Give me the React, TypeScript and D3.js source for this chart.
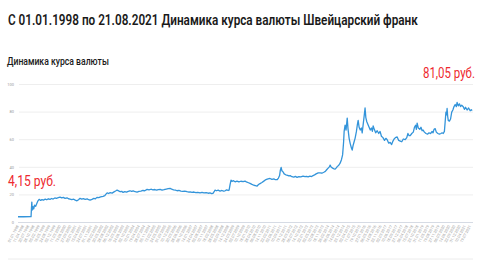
import React, { useLayoutEffect, useRef, useState } from "react";
import * as d3 from "d3";

const years = [
  1998.0, 1998.3, 1998.68, 1998.7, 1998.72, 1998.74, 1998.78, 1998.82, 1998.86, 1998.92, 1998.98,
  1999.04, 1999.1, 1999.18, 1999.25, 1999.33, 1999.42, 1999.5, 1999.58, 1999.67, 1999.75, 1999.83, 1999.92,
  2000.0, 2000.1, 2000.19, 2000.28, 2000.36, 2000.45, 2000.55, 2000.63, 2000.71, 2000.8, 2000.9, 2000.98,
  2001.07, 2001.15, 2001.23, 2001.32, 2001.4, 2001.5, 2001.6, 2001.68, 2001.75, 2001.85, 2001.95,
  2002.03, 2002.11, 2002.2, 2002.3, 2002.43, 2002.52, 2002.58, 2002.64, 2002.72, 2002.8, 2002.9,
  2003.0, 2003.08, 2003.16, 2003.24, 2003.32, 2003.4, 2003.47, 2003.56, 2003.65, 2003.74, 2003.83, 2003.92,
  2004.0, 2004.1, 2004.2, 2004.3, 2004.4, 2004.5, 2004.6, 2004.72, 2004.82, 2004.92,
  2005.02, 2005.12, 2005.22, 2005.3, 2005.4, 2005.5, 2005.6, 2005.72, 2005.82, 2005.92,
  2006.0, 2006.1, 2006.2, 2006.28, 2006.38, 2006.48, 2006.58, 2006.68, 2006.8, 2006.9, 2006.96,
  2007.06, 2007.16, 2007.26, 2007.36, 2007.48, 2007.58, 2007.68, 2007.8, 2007.9,
  2008.0, 2008.08, 2008.16, 2008.22, 2008.26, 2008.34, 2008.42, 2008.52, 2008.62, 2008.7, 2008.78, 2008.86, 2008.94, 2008.99,
  2009.04, 2009.09, 2009.14, 2009.2, 2009.3, 2009.4, 2009.5, 2009.6, 2009.72, 2009.82, 2009.92,
  2010.0, 2010.08, 2010.18, 2010.28, 2010.36, 2010.45, 2010.52, 2010.6, 2010.7, 2010.78, 2010.86, 2010.94,
  2011.02, 2011.12, 2011.22, 2011.32, 2011.4, 2011.49, 2011.56, 2011.62, 2011.66, 2011.7, 2011.74, 2011.8, 2011.86, 2011.94,
  2012.04, 2012.1, 2012.17, 2012.26, 2012.36, 2012.44, 2012.53, 2012.62, 2012.72, 2012.84, 2012.94,
  2013.02, 2013.1, 2013.2, 2013.28, 2013.36, 2013.44, 2013.52, 2013.63, 2013.73, 2013.82, 2013.92,
  2014.0, 2014.08, 2014.16, 2014.22, 2014.25, 2014.3, 2014.38, 2014.46, 2014.51, 2014.56, 2014.62, 2014.7, 2014.77, 2014.84, 2014.9, 2014.95, 2014.98,
  2015.03, 2015.08, 2015.14, 2015.18, 2015.24, 2015.3, 2015.36, 2015.4, 2015.45, 2015.5, 2015.55, 2015.62, 2015.67, 2015.71, 2015.76, 2015.82, 2015.88, 2015.92, 2015.98,
  2016.03, 2016.07, 2016.11, 2016.16, 2016.22, 2016.28, 2016.34, 2016.4, 2016.45, 2016.49, 2016.55, 2016.62, 2016.7, 2016.78, 2016.85, 2016.92,
  2017.0, 2017.08, 2017.15, 2017.22, 2017.3, 2017.375, 2017.45, 2017.52, 2017.58, 2017.65, 2017.74, 2017.82, 2017.9, 2017.98,
  2018.06, 2018.16, 2018.24, 2018.3, 2018.36, 2018.42, 2018.5, 2018.58, 2018.64, 2018.7, 2018.74, 2018.78, 2018.84, 2018.92, 2018.98,
  2019.04, 2019.09, 2019.16, 2019.24, 2019.32, 2019.4, 2019.48, 2019.56, 2019.61, 2019.66, 2019.72, 2019.78, 2019.86, 2019.94,
  2020.02, 2020.08, 2020.14, 2020.2, 2020.24, 2020.28, 2020.31, 2020.34, 2020.37, 2020.4, 2020.46, 2020.52, 2020.58, 2020.64, 2020.7, 2020.76, 2020.82, 2020.86, 2020.92, 2020.98,
  2021.04, 2021.1, 2021.18, 2021.24, 2021.3, 2021.38, 2021.46, 2021.54, 2021.6, 2021.64,
];

const rates = [
  4.15, 4.17, 4.2, 10, 14.8, 9, 11.5, 9.8, 12.5, 11.8, 13.8,
  15.7, 16.8, 16.0, 16.6, 16.2, 17.0, 16.5, 17.2, 16.8, 17.4, 17.0, 17.8,
  17.5, 18.0, 18.4, 17.8, 18.2, 17.5, 17.9, 17.2, 17.0, 16.6, 16.9, 16.2,
  15.7, 16.5, 17.5, 17.0, 17.3, 16.8, 17.1, 16.5, 16.2, 16.8, 17.5,
  17.2, 18.2, 18.0, 18.6, 19.0, 19.5, 20.6, 21.5, 21.0, 21.6, 21.3,
  22.2, 22.8, 23.5, 22.9, 22.3, 22.6, 21.8, 22.4, 22.0, 22.6, 23.0, 22.5,
  22.9, 22.3, 22.0, 22.6, 22.8, 23.2, 23.0, 24.0, 23.6, 24.1,
  23.7, 23.9, 23.4, 23.8, 24.0, 23.5, 23.8, 24.2, 24.5, 24.7,
  24.2, 23.7, 23.4, 23.0, 23.3, 22.8, 22.5, 22.8, 22.3, 22.0, 22.2,
  21.8, 22.1, 21.7, 21.9, 21.5, 21.8, 21.4, 21.6, 21.2,
  21.4, 21.0, 21.2, 22.5, 23.5, 23.0, 23.4, 22.8, 23.2, 22.7, 23.0, 23.6, 23.2, 23.5,
  27.5, 30.7, 29.8, 30.3, 29.5, 30.0, 29.4, 29.9, 29.6, 30.0, 29.2,
  28.8, 28.3, 27.6, 27.0, 26.8, 26.4, 27.5, 28.2, 29.0, 29.8, 30.7, 31.2,
  31.6, 31.9, 31.2, 31.6, 31.0, 31.0, 32.2, 34.0, 38.0, 40.0, 37.5, 36.7, 35.2, 34.6,
  34.2, 33.8, 34.0, 33.2, 32.9, 33.4, 32.7, 33.2, 33.0, 33.6, 33.2,
  33.4, 33.0, 33.6, 33.3, 34.0, 34.5, 35.2, 36.0, 36.0, 35.7, 36.4,
  37.0, 38.4, 39.6, 40.5, 41.6, 40.2, 39.4, 38.9, 38.7, 39.4, 40.5, 41.5, 43.0, 45.5, 49.0, 58.0, 66.0,
  70.6, 67.0, 75.7, 68.0, 61.0, 57.0, 54.0, 52.5, 56.0, 58.5, 61.0, 66.0, 71.0, 74.0, 69.0, 67.0, 68.5, 65.0, 72.0,
  78.0, 83.0, 76.0, 73.0, 71.0, 69.0, 67.0, 68.5, 66.0, 70.0, 67.5, 65.0, 66.5, 64.5, 66.0, 62.5,
  61.5, 59.5, 61.0, 60.0, 57.5, 58.0, 56.5, 59.0, 60.5, 61.5, 62.0, 59.5, 59.0, 58.5,
  60.5, 60.0, 61.5, 64.5, 63.0, 63.0, 64.5, 65.5, 69.0, 70.5, 67.5, 72.0, 68.5, 67.5, 69.0,
  66.5, 67.0, 65.5, 64.5, 64.0, 65.0, 64.5, 66.0, 65.0, 67.5, 68.0, 65.5, 64.5, 64.0,
  64.5, 65.0, 64.5, 66.0, 73.0, 80.0, 78.0, 82.6, 77.0, 74.0, 73.5, 75.0, 80.0, 81.5, 84.0, 85.5, 84.0, 87.0, 84.5, 86.0,
  84.0, 85.0, 83.9, 82.0, 83.5, 81.5, 83.0, 81.0, 81.8, 81.05,
];

const yTicks = [0, 20, 40, 60, 80, 100];
const startDate = "1998-01-01";
const endDate = "2021-08-21";
const tickStepDays = 100;

const title = "С 01.01.1998 по 21.08.2021 Динамика курса валюты Швейцарский франк";
const subtitle = "Динамика курса валюты";
const firstLabel = "4,15 руб.";
const lastLabel = "81,05 руб.";

function yearToDate(y: number): Date {
  const yr = Math.floor(y);
  const frac = y - yr;
  const start = new Date(yr, 0, 1).getTime();
  const end = new Date(yr + 1, 0, 1).getTime();
  return new Date(start + frac * (end - start));
}

function FitText(props: {
  x: number; y: number; width: number; fontSize: number; fontWeight?: number; fill: string; children: string;
}) {
  const ref = useRef<SVGTextElement>(null);
  const [sx, setSx] = useState(1);
  useLayoutEffect(() => {
    if (ref.current) {
      const w = ref.current.getComputedTextLength();
      if (w > 0) setSx(props.width / w);
    }
  }, [props.width, props.children]);
  return (
    <g transform={`translate(${props.x},${props.y}) scale(${sx},1)`}>
      <text ref={ref} x={0} y={0} fontSize={props.fontSize} fontWeight={props.fontWeight || 400} fill={props.fill}>
        {props.children}
      </text>
    </g>
  );
}

export default function App() {
  const W = 480, H = 264;
  const parse = d3.timeParse("%Y-%m-%d");
  const d0 = parse(startDate)!;
  const d1 = parse(endDate)!;
  const x = d3.scaleTime().domain([d0, d1]).range([18, 472]);
  const y = d3.scaleLinear().domain([0, 100]).range([222.5, 84.5]);

  const data = years.map((yy, i) => ({ d: yearToDate(yy), v: rates[i] }));
  const line = d3.line<{ d: Date; v: number }>().x((p) => x(p.d)).y((p) => y(p.v));

  const tickDates: Date[] = [];
  for (let t = d0; t <= d1; t = d3.timeDay.offset(t, tickStepDays)) tickDates.push(t);
  const fmt = d3.timeFormat("%d.%m.%Y");

  const font = "Roboto, 'Noto Sans', sans-serif";

  return (
    <svg width={W} height={H} style={{ position: "absolute", left: 0, top: 0, background: "#fff" }} fontFamily={font}>
      <FitText x={8} y={25} width={410} fontSize={15.5} fontWeight={600} fill="#1a1a1a">
        {title}
      </FitText>
      <FitText x={7} y={65} width={102} fontSize={11} fontWeight={500} fill="#1a1a1a">
        {subtitle}
      </FitText>
      {yTicks.map((t) => (
        <g key={t}>
          {t > 0 && <line x1={19} x2={473} y1={y(t)} y2={y(t)} stroke="#eeeeee" strokeWidth={1} />}
          <text x={14} y={y(t) + 1.3} fontSize={4} fill="#9a9a9a" textAnchor="end">
            {t}
          </text>
        </g>
      ))}
      <line x1={18} x2={473} y1={y(0)} y2={y(0)} stroke="#d6dbe4" strokeWidth={1} />
      {tickDates.map((t, i) => (
        <text
          key={i}
          transform={`translate(${x(t) + 1},${226}) rotate(-62)`}
          fontSize={3.8}
          fill="#a0a0a0"
          textAnchor="end"
        >
          {fmt(t)}
        </text>
      ))}
      <line x1={8} x2={473} y1={259} y2={259} stroke="#ececec" strokeWidth={1} />
      <path d={line(data) || ""} fill="none" stroke="#3394da" strokeWidth={1.3} strokeLinejoin="round" />
      <FitText x={8} y={186} width={48} fontSize={15} fill="#ee2a2f">
        {firstLabel}
      </FitText>
      <FitText x={423} y={78} width={52} fontSize={15} fill="#ee2a2f">
        {lastLabel}
      </FitText>
    </svg>
  );
}
